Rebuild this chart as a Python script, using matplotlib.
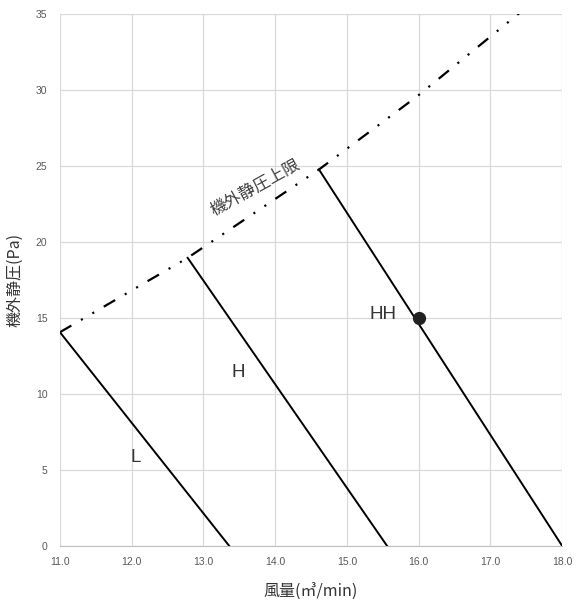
import matplotlib
matplotlib.use("Agg")
import matplotlib.pyplot as plt
import numpy as np

plt.rcParams['font.family'] = ['Noto Sans CJK JP', 'DejaVu Sans']
plt.rcParams['lines.scale_dashes'] = False

# upper limit of external static pressure (curve)
limit_x = [11.0, 12.78, 14.61, 15.98, 17.39, 17.6]
limit_y = [14.06, 18.95, 24.76, 29.58, 35.0, 35.8]

# fan curves
fan_names = ["L", "H", "HH"]
fan_x = [[11.0, 13.36], [12.78, 15.56], [14.61, 18.0]]
fan_y = [[14.06, 0.0], [18.95, 0.0], [24.76, 0.0]]
label_pos = [(12.05, 5.8), (13.48, 11.4), (15.5, 15.2)]

# operating point
op_x, op_y = 16.0, 15.0

xticks = np.arange(11.0, 18.01, 1.0)
yticks = np.arange(0, 36, 5)

fig = plt.figure(figsize=(5.82, 6.0), dpi=100)
ax = fig.add_axes([0.103, 0.09, 0.863, 0.887])

ax.plot(limit_x, limit_y, color="black", lw=1.6, dashes=(9.5, 8, 1.5, 8, 1.5, 8))
for xs, ys in zip(fan_x, fan_y):
    ax.plot(xs, ys, color="black", lw=1.4)
ax.plot(op_x, op_y, "o", color="#222222", ms=8.5, zorder=5)

for name, (tx, ty) in zip(fan_names, label_pos):
    ax.text(tx, ty, name, fontsize=13.5, color="#333333", ha="center", va="center",
            family=["Liberation Sans", "DejaVu Sans"])

ax.text(13.72, 23.6, "機外静圧上限", fontsize=12, color="#404040",
        rotation=29, ha="center", va="center")

ax.set_xlim(11.0, 18.0)
ax.set_ylim(0, 35)
ax.set_xticks(xticks)
ax.set_xticklabels([f"{v:.1f}" for v in xticks])
ax.set_yticks(yticks)
ax.grid(True, color="#d9d9d9", lw=0.9)
ax.set_axisbelow(True)
for s in ["top", "right", "left"]:
    ax.spines[s].set_visible(False)
ax.spines["bottom"].set_color("#bfbfbf")
ax.tick_params(length=0, labelsize=7.5, labelcolor="#595959")
ax.tick_params(axis="x", pad=8)
ax.tick_params(axis="y", pad=9)
for lbl in ax.get_xticklabels() + ax.get_yticklabels():
    lbl.set_family(["Liberation Sans", "DejaVu Sans"])

ax.set_xlabel("風量(㎥/min)", fontsize=11.5, color="#333333", labelpad=12)
ax.set_ylabel("機外静圧(Pa)", fontsize=11.5, color="#333333", labelpad=9)

fig.savefig("out.png", dpi=100)
